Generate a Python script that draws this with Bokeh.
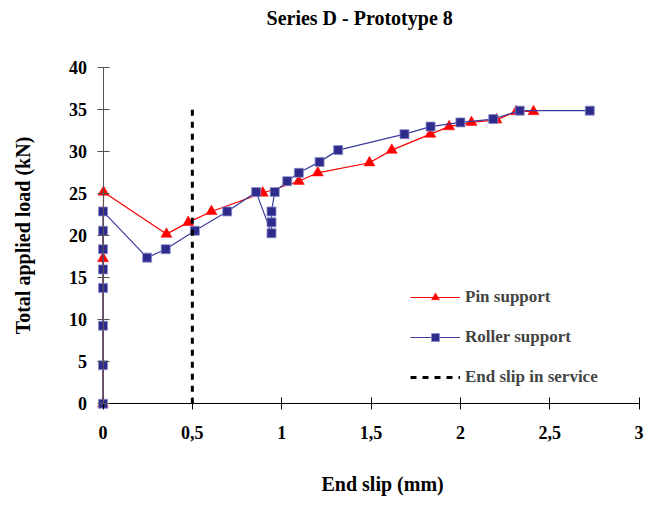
from bokeh.plotting import figure
from bokeh.models import (Range1d, Legend, LegendItem, Label, FixedTicker,
                          LinearAxis)
from bokeh.embed import file_html
from bokeh.resources import INLINE

# ---- data ----
pin_x = [0, 0, 0.003, 0.355, 0.477, 0.607, 0.894, 1.096, 1.202, 1.491, 1.616,
         1.832, 1.937, 2.062, 2.202, 2.312, 2.409]
pin_y = [0, 17.3, 25.2, 20.2, 21.6, 22.9, 25.1, 26.5, 27.5, 28.7, 30.2,
         32.1, 33.0, 33.5, 33.8, 34.8, 34.8]

roller_x = [0, 0, 0, 0, 0, 0, 0, 0, 0.247, 0.351, 0.514, 0.695, 0.857,
            0.943, 0.943, 0.943, 0.961, 1.031, 1.096, 1.212, 1.316, 1.687,
            1.833, 2.0, 2.184, 2.332, 2.724]
roller_y = [0, 4.6, 9.3, 13.8, 16.0, 18.4, 20.6, 22.9, 17.4, 18.4, 20.6, 22.9,
            25.2, 20.3, 21.6, 22.9, 25.2, 26.5, 27.5, 28.8, 30.2, 32.1,
            33.0, 33.5, 33.9, 34.9, 34.9]

service_slip_x = [0.5, 0.5]
service_slip_y = [0, 35]

x_ticks = [0, 0.5, 1, 1.5, 2, 2.5, 3]
x_tick_labels = ["0", "0,5", "1", "1,5", "2", "2,5", "3"]
y_ticks = [0, 5, 10, 15, 20, 25, 30, 35, 40]

series_names = ["Pin support", "Roller support", "End slip in service"]
title_text = "Series D - Prototype 8"
x_label = "End slip (mm)"
y_label = "Total applied load (kN)"

FONT = "Liberation Serif"
RED = "#FF0000"
BLUE_FILL = "#2E2B8C"
BLUE_LINE = "#3C3C9E"

W, H = 650, 500
X0_PX, X_SCALE = 102.5, 178.7      # pixel of x=0, pixels per mm
Y0_PX, Y_SCALE = 403.3, 8.4        # pixel of y=0, pixels per kN

p = figure(width=W, height=H,
           x_range=Range1d(-X0_PX / X_SCALE, (W - X0_PX) / X_SCALE),
           y_range=Range1d((Y0_PX - H) / Y_SCALE, Y0_PX / Y_SCALE),
           x_axis_location=None, y_axis_location=None,
           output_backend="svg", toolbar_location=None,
           min_border=0)
p.outline_line_color = None
p.grid.visible = False
p.background_fill_color = "white"
p.border_fill_color = "white"

# series
r_pin_l = p.line(pin_x, pin_y, line_color=RED, line_width=1.2)
r_pin_m = p.scatter(pin_x, pin_y, marker="triangle", size=11,
                    fill_color=RED, line_color=RED, line_width=0.5)
r_rol_l = p.line(roller_x, roller_y, line_color=BLUE_LINE, line_width=1.2)
r_rol_m = p.scatter(roller_x, roller_y, marker="square", size=9,
                    fill_color=BLUE_FILL, line_color="#8C8CC8", line_width=0.8)
r_dash = p.line(service_slip_x, service_slip_y, line_color="black",
                line_width=3, line_dash="6 6")

# axes crossing at the origin
x_axis = LinearAxis(ticker=FixedTicker(ticks=x_ticks), fixed_location=0,
                    bounds=(x_ticks[0], x_ticks[-1]),
                    major_label_overrides={t: s for t, s in zip(x_ticks, x_tick_labels)},
                    axis_line_color="black", major_tick_line_color="black",
                    minor_tick_line_color=None, major_tick_in=6,
                    major_tick_out=6, major_label_standoff=16)
y_axis = LinearAxis(ticker=FixedTicker(ticks=y_ticks), fixed_location=0,
                    bounds=(y_ticks[0], y_ticks[-1]),
                    axis_line_color="#555555", major_tick_line_color="#555555",
                    minor_tick_line_color=None, major_tick_in=6,
                    major_tick_out=6, major_label_standoff=10,
                    axis_label=y_label, axis_label_standoff=33,
                    axis_label_text_font=FONT,
                    axis_label_text_font_style="bold",
                    axis_label_text_font_size="20px",
                    axis_label_text_color="black")
for ax in (x_axis, y_axis):
    ax.major_label_text_font = FONT
    ax.major_label_text_font_style = "bold"
    ax.major_label_text_font_size = "18px"
    ax.major_label_text_color = "black"
p.add_layout(x_axis, "below")
p.add_layout(y_axis, "left")

# title and x label
p.add_layout(Label(x=0.915, y=45.87, text=title_text, text_align="left",
                   text_baseline="alphabetic", text_font=FONT,
                   text_font_style="bold", text_font_size="20px",
                   text_color="black"))
p.add_layout(Label(x=1.2227, y=-9.55, text=x_label, text_align="left",
                   text_baseline="alphabetic", text_font=FONT,
                   text_font_style="bold", text_font_size="20px",
                   text_color="black"))

legend = Legend(items=[
    LegendItem(label=series_names[0], renderers=[r_pin_l, r_pin_m]),
    LegendItem(label=series_names[1], renderers=[r_rol_l, r_rol_m]),
    LegendItem(label=series_names[2], renderers=[r_dash]),
], location=(410, 113))
legend.padding = 0
legend.margin = 0
legend.border_line_color = None
legend.background_fill_alpha = 0
legend.glyph_width = 50
legend.glyph_height = 20
legend.label_height = 20
legend.spacing = 20
legend.label_standoff = 5
legend.label_text_font = FONT
legend.label_text_font_style = "bold"
legend.label_text_font_size = "17px"
p.add_layout(legend)

open("out.html", "w").write(file_html(p, INLINE))
